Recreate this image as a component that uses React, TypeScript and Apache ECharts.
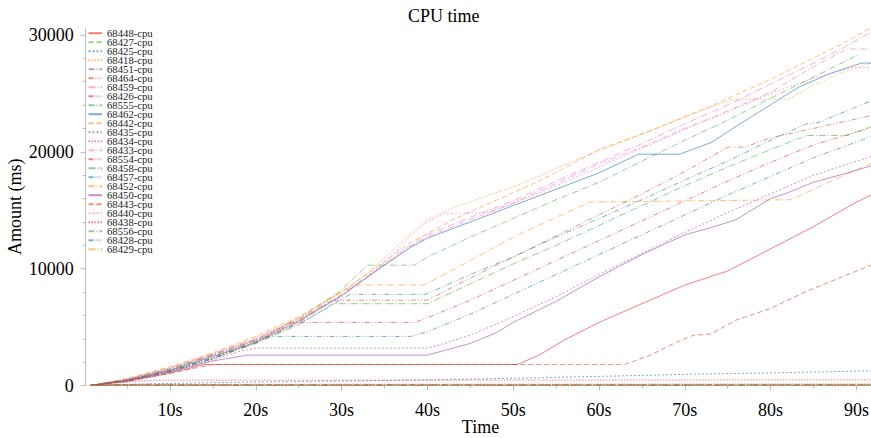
import React, { useEffect, useRef } from "react";
import * as echarts from "echarts";

type P = [number, number][];

const seriesNames = [
  "68448-cpu", "68427-cpu", "68425-cpu", "68418-cpu", "68451-cpu", "68464-cpu", "68459-cpu",
  "68426-cpu", "68555-cpu", "68462-cpu", "68442-cpu", "68435-cpu", "68434-cpu", "68433-cpu",
  "68554-cpu", "68458-cpu", "68457-cpu", "68452-cpu", "68450-cpu", "68443-cpu", "68440-cpu",
  "68438-cpu", "68556-cpu", "68428-cpu", "68429-cpu",
];

const xTickLabels = [10, 20, 30, 40, 50, 60, 70, 80, 90];
const xMinorTicks = [5, 15, 25, 35, 45, 55, 65, 75, 85];
const yTickLabels = [0, 10000, 20000, 30000];
const yMinorTicks = [2000, 4000, 6000, 8000, 12000, 14000, 16000, 18000, 22000, 24000, 26000, 28000];

const s68448: P = [[0.7,0],[5,350],[10,1050],[14,1800],[50.5,1800],[53,2600],[56,3900],[60,5400],[65,7000],[70,8600],[75,9800],[80,11700],[85,13600],[90,15700],[91.7,16300]];
const s68427: P = [[0.7,0],[3,60],[91.7,80]];
const s68425: P = [[0.7,0],[5,100],[10,180],[20,300],[30,380],[40,480],[50,620],[60,780],[70,950],[80,1080],[91.7,1250]];
const s68418: P = [[0.7,0],[5,550],[10,1500],[15,2700],[20,4100],[25,5800],[30,8000],[33,9600],[36,11600],[38,13000],[40,14200],[43,15200],[46,16000],[50,17000],[53,17900],[56,18900],[60,20100],[65,21500],[70,23000],[75.5,24500],[82,24500],[85,25700],[88,26700],[91.7,27600]];
const s68451: P = [[0.7,0],[3,40],[91.7,40]];
const s68464: P = [[0.7,0],[5,450],[10,1250],[15,2350],[20,3600],[25,5400],[29,7300],[40,7300],[45,9200],[50,11000],[55,12800],[60,14600],[65,16400],[70,18300],[75,20400],[77,20400],[80,21200],[85,22000],[88,22500],[91.7,23100]];
const s68459: P = [[0.7,0],[5,550],[10,1500],[15,2700],[20,4000],[25,5700],[30,7800],[35,10400],[38,12000],[40,12900],[45,14400],[50,15800],[55,17500],[60,19100],[65,20700],[70,22400],[75,24000],[80,25800],[85,27600],[88,28700],[91.7,30250]];
const s68426: P = [[0.7,0],[3,30],[91.7,30]];
const s68555: P = [[0.7,0],[5,500],[10,1400],[15,2600],[20,3900],[25,5700],[30,8200],[32,9600],[33,10300],[38.5,10300],[40,11000],[45,12700],[50,14300],[55,15900],[60,17400],[65,19200],[70,21000],[75,22700],[80,24600],[85,26400],[90.2,28300]];
const s68462: P = [[0.7,0],[5,450],[10,1300],[15,2500],[20,3700],[25,5500],[30,7700],[35,10300],[38,11800],[40,12600],[45,14000],[50,15400],[55,16800],[60,18200],[64.6,19800],[69.4,19800],[73.1,20800],[76,22200],[79.4,23750],[83.3,25550],[87.1,26750],[90.6,27600],[91.7,27600]];
const s68442: P = [[0.7,0],[5,600],[10,1600],[15,2800],[20,4200],[25,5900],[30,8000],[35,10600],[38,12200],[40,13000],[43,14200],[46,15200],[50,16500],[53,17500],[56,18600],[60,20200],[63,21000],[66,21800],[70,23000],[73,23900],[76,24900],[80,26200],[83,27300],[86,28400],[89,29500],[91.7,30600]];
const s68435: P = [[0.7,0],[5,400],[10,1150],[15,2200],[18,2900],[20,3200],[40,3200],[42,3600],[45,4300],[50,5900],[55,7600],[60,9500],[65,11300],[70,13100],[75,14800],[80,16400],[85,18000],[91.7,19600]];
const s68434: P = [[0.7,0],[5,100],[91.7,130]];
const s68433: P = [[0.7,0],[5,520],[10,1450],[15,2650],[20,3950],[25,5600],[30,7700],[35,10300],[38,11900],[40,12700],[45,14200],[50,15600],[55,17300],[60,18950],[65,20400],[70,22000],[75,23500],[80,25100],[85,27300],[88.9,28800],[91.7,28800]];
const s68554: P = [[0.7,0],[5,430],[10,1200],[15,2300],[20,3700],[24,5400],[38.5,5400],[40,5800],[45,7300],[50,9000],[55,10700],[60,12400],[65,14100],[70,15800],[75,17500],[80,19100],[85,20600],[91.7,22050]];
const s68458: P = [[0.7,0],[5,450],[10,1250],[15,2300],[20,3600],[25,5200],[29,7000],[40,7000],[45,8700],[50,10400],[55,12000],[60,13700],[65,15400],[70,17100],[75,18700],[80,20200],[84.2,21400],[88.9,21400],[91.7,22150]];
const s68457: P = [[0.7,0],[5,420],[10,1200],[15,2300],[19,3600],[21.5,4200],[38,4200],[40,4600],[45,6100],[50,7800],[55,9500],[60,11200],[65,12900],[70,14600],[75,16300],[80,17900],[85,19500],[91.7,21300]];
const s68452: P = [[0.7,0],[5,500],[10,1350],[15,2500],[20,3800],[25,5500],[29,7600],[31.5,8600],[39.6,8600],[45,10700],[50,12700],[55,14400],[59,15700],[82.4,15900],[85,16800],[88,17800],[91.7,19000]];
const s68450: P = [[0.7,0],[5,400],[10,1150],[15,2100],[19,2600],[40,2600],[42,3000],[45,3600],[48,4500],[50,5400],[55,7200],[60,9300],[65,11200],[70,12900],[73,13500],[76,14200],[80,16000],[82,16500],[85,17400],[88,18000],[91.7,18800]];
const s68443: P = [[0.7,0],[5,350],[10,1050],[15,1800],[63,1800],[66,2600],[69,3700],[71,4300],[73,4400],[76,5600],[80,6600],[84,8000],[88,9200],[91.7,10300]];
const s68440: P = [[0.7,0],[5,500],[10,1400],[15,2600],[20,3900],[25,5500],[30,7600],[35,10500],[38,12800],[40,14000],[42,14700],[47,14800],[50,15600],[55,17100],[60,18700],[65,20300],[70,21900],[75,23400],[80,25000],[85,26300],[89.5,27200],[91.7,27200]];
const s68438: P = [[0.7,0],[4,250],[8,450],[91.7,480]];
const s68556: P = [[0.7,0],[3,50],[91.7,60]];
const s68428: P = [[0.7,0],[5,450],[10,1300],[15,2400],[20,3700],[25,5300],[28,6500],[31,7800],[39.8,7800],[45,9500],[50,11000],[55,12700],[60,14300],[65,15900],[70,17600],[75,19200],[80,21000],[84.2,22400],[85.5,22500],[91.7,24350]];
const s68429: P = [[0.7,0],[3,20],[91.7,20]];

const seriesValues: P[] = [
  s68448, s68427, s68425, s68418, s68451, s68464, s68459, s68426, s68555, s68462,
  s68442, s68435, s68434, s68433, s68554, s68458, s68457, s68452, s68450, s68443,
  s68440, s68438, s68556, s68428, s68429,
];

const palette = [
  "rgba(228,26,28,0.55)",
  "rgba(77,175,74,0.6)",
  "rgba(55,126,184,0.65)",
  "rgba(255,127,0,0.5)",
  "rgba(152,78,163,0.6)",
  "rgba(215,70,40,0.6)",
  "rgba(231,80,170,0.45)",
];

const dashes: (string | number[])[] = [
  "solid",
  [5, 3],
  [2, 2],
  [1.5, 1.5],
  [6, 2, 1, 2],
  [5, 2, 1, 2, 1, 2],
  [7, 2, 1, 2],
  [5, 2, 1, 2, 1, 2],
  [6, 2, 1, 2],
];

const FONT = "'Liberation Serif', 'Times New Roman', serif";

export default function App() {
  const ref = useRef<HTMLDivElement>(null);
  useEffect(() => {
    const chart = echarts.init(ref.current!, null, { renderer: "svg" });
    const series = seriesNames.map((name, i) => ({
      name,
      type: "line",
      data: seriesValues[i],
      xAxisIndex: 0,
      yAxisIndex: 0,
      symbol: "none",
      showSymbol: false,
      color: palette[i % 7],
      lineStyle: { width: 1, type: dashes[i % 9], color: palette[i % 7] },
      emphasis: { disabled: true },
    }));
    const axisColor = "#bdbdbd";
    chart.setOption({
      animation: false,
      title: {
        text: "CPU time",
        left: 403,
        top: 2,
        textStyle: { fontFamily: FONT, fontSize: 18, fontWeight: "normal", color: "#000" },
      },
      legend: {
        orient: "vertical",
        left: 87.5,
        top: 27.7,
        padding: 0,
        itemGap: -2,
        itemWidth: 13.5,
        itemHeight: 9.1,
        itemStyle: { opacity: 0 },
        textStyle: { fontFamily: FONT, fontSize: 10.7, color: "#222" },
        data: seriesNames,
      },
      grid: {
        left: 90,
        right: 0,
        top: 28,
        bottom: 52.5,
        containLabel: false,
        outerBoundsMode: "none",
      },
      xAxis: [
        {
          type: "value",
          min: 0.68,
          max: 91.7,
          offset: 7.5,
          name: "Time",
          nameLocation: "middle",
          nameGap: 25,
          nameMoveOverlap: false,
          nameTextStyle: { fontFamily: FONT, fontSize: 18, color: "#000" },
          axisLine: { show: true, lineStyle: { color: axisColor, width: 1 } },
          axisTick: { show: true, length: 5, customValues: xTickLabels, lineStyle: { color: axisColor } },
          axisLabel: {
            customValues: xTickLabels,
            formatter: (v: number) => `${v}s`,
            fontFamily: FONT,
            fontSize: 18,
            color: "#000",
            margin: 8,
          },
          splitLine: { show: false },
        },
        {
          type: "value",
          min: 0.68,
          max: 91.7,
          offset: 7.5,
          position: "bottom",
          axisLine: { show: false },
          axisTick: { show: true, length: 3, customValues: xMinorTicks, lineStyle: { color: axisColor } },
          axisLabel: { show: false },
          splitLine: { show: false },
        },
      ],
      yAxis: [
        {
          type: "value",
          min: 0,
          max: 30600,
          offset: 4.3,
          name: "Amount (ms)",
          nameLocation: "middle",
          nameGap: 62,
          nameMoveOverlap: false,
          nameTextStyle: { fontFamily: FONT, fontSize: 18, color: "#000" },
          axisLine: { show: true, lineStyle: { color: axisColor, width: 1 } },
          axisTick: { show: true, length: 5, customValues: yTickLabels, lineStyle: { color: axisColor } },
          axisLabel: {
            customValues: yTickLabels,
            formatter: (v: number) => String(v),
            fontFamily: FONT,
            fontSize: 18,
            color: "#000",
            margin: 12,
          },
          splitLine: { show: false },
        },
        {
          type: "value",
          min: 0,
          max: 30600,
          offset: 4.3,
          position: "left",
          axisLine: { show: false },
          axisTick: { show: true, length: 3, customValues: yMinorTicks, lineStyle: { color: axisColor } },
          axisLabel: { show: false },
          splitLine: { show: false },
        },
      ],
      series,
    });
    return () => chart.dispose();
  }, []);
  return <div ref={ref} style={{ position: "absolute", left: 0, top: 0, width: 871, height: 438 }} />;
}
